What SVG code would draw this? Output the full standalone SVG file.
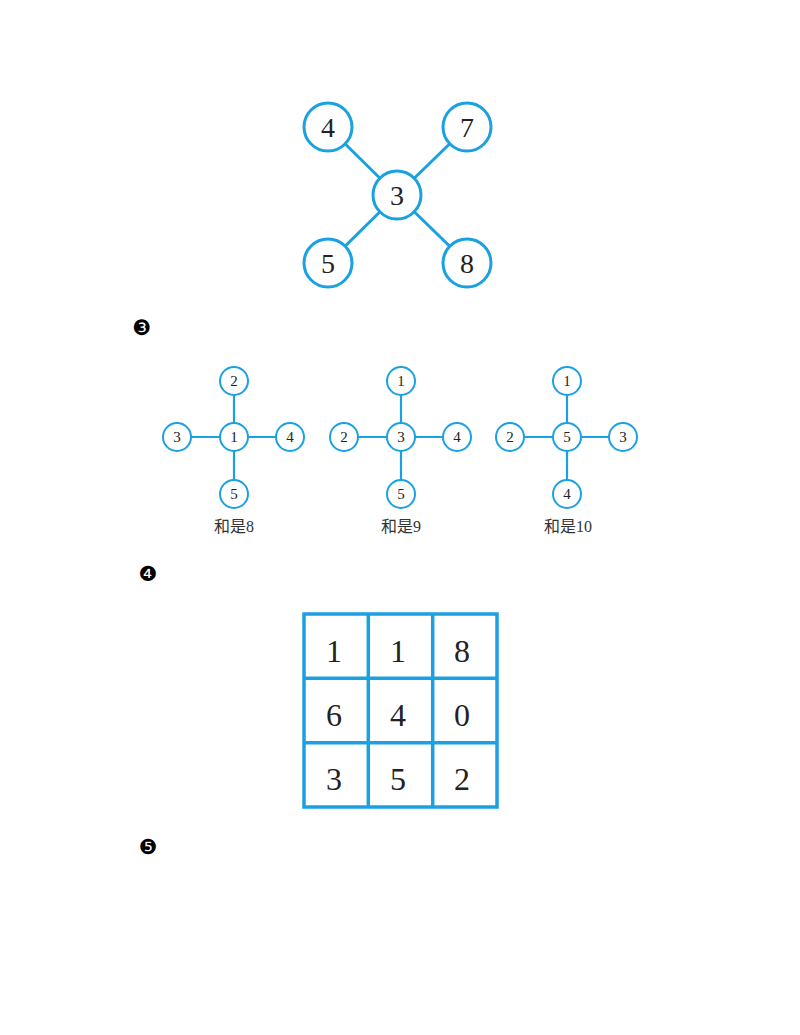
<svg xmlns="http://www.w3.org/2000/svg" width="800" height="1035" viewBox="0 0 800 1035">
<style>
.big{fill:#fff;stroke:#1ba1e2;stroke-width:3}
.sm{fill:#fff;stroke:#1ba1e2;stroke-width:2}
.ln{stroke:#1ba1e2;stroke-width:3}
.lns{stroke:#1ba1e2;stroke-width:2.2}
.t{font-family:"Liberation Serif",serif;fill:#222;text-anchor:middle;dominant-baseline:central}
.tb{font-size:28px}
.ts{font-size:15px}
.tg{font-size:32px}
.cap{font-family:"Liberation Serif","Noto Sans CJK SC",serif;font-size:16px;fill:#333;text-anchor:middle}
.bul{font-family:"DejaVu Sans",sans-serif;font-size:21px;fill:#000;text-anchor:middle;dominant-baseline:central}
.grid{fill:none;stroke:#1ba1e2;stroke-width:3.5}
</style>
<rect width="800" height="1035" fill="#fff"/>
<g id="connectors-top">
<line class="ln" x1="328" y1="127" x2="397" y2="195"/>
<line class="ln" x1="467" y1="127" x2="397" y2="195"/>
<line class="ln" x1="328" y1="263" x2="397" y2="195"/>
<line class="ln" x1="467" y1="263" x2="397" y2="195"/>
</g>
<g id="n4"><circle class="big" cx="328" cy="127" r="24"/><text class="t tb" x="328" y="127">4</text></g>
<g id="n7"><circle class="big" cx="467" cy="127" r="24"/><text class="t tb" x="467" y="127">7</text></g>
<g id="n3"><circle class="big" cx="397" cy="195" r="24"/><text class="t tb" x="397" y="195">3</text></g>
<g id="n5"><circle class="big" cx="328" cy="263" r="24"/><text class="t tb" x="328" y="263">5</text></g>
<g id="n8"><circle class="big" cx="467" cy="263" r="24"/><text class="t tb" x="467" y="263">8</text></g>

<text class="bul" x="142" y="328">❸</text>

<g id="connectors-mid">
<line class="lns" x1="234" y1="381" x2="234" y2="494"/>
<line class="lns" x1="177" y1="437" x2="290" y2="437"/>
<line class="lns" x1="401" y1="381" x2="401" y2="494"/>
<line class="lns" x1="344" y1="437" x2="457" y2="437"/>
<line class="lns" x1="567" y1="381" x2="567" y2="494"/>
<line class="lns" x1="510" y1="437" x2="623" y2="437"/>
</g>
<g id="a-c"><circle class="sm" cx="234" cy="437" r="14"/><text class="t ts" x="234" y="437">1</text></g>
<g id="a-t"><circle class="sm" cx="234" cy="381" r="14"/><text class="t ts" x="234" y="381">2</text></g>
<g id="a-l"><circle class="sm" cx="177" cy="437" r="14"/><text class="t ts" x="177" y="437">3</text></g>
<g id="a-r"><circle class="sm" cx="290" cy="437" r="14"/><text class="t ts" x="290" y="437">4</text></g>
<g id="a-b"><circle class="sm" cx="234" cy="494" r="14"/><text class="t ts" x="234" y="494">5</text></g>
<text class="cap" x="234" y="532">和是8</text>

<g id="b-c"><circle class="sm" cx="401" cy="437" r="14"/><text class="t ts" x="401" y="437">3</text></g>
<g id="b-t"><circle class="sm" cx="401" cy="381" r="14"/><text class="t ts" x="401" y="381">1</text></g>
<g id="b-l"><circle class="sm" cx="344" cy="437" r="14"/><text class="t ts" x="344" y="437">2</text></g>
<g id="b-r"><circle class="sm" cx="457" cy="437" r="14"/><text class="t ts" x="457" y="437">4</text></g>
<g id="b-b"><circle class="sm" cx="401" cy="494" r="14"/><text class="t ts" x="401" y="494">5</text></g>
<text class="cap" x="401" y="532">和是9</text>

<g id="c-c"><circle class="sm" cx="567" cy="437" r="14"/><text class="t ts" x="567" y="437">5</text></g>
<g id="c-t"><circle class="sm" cx="567" cy="381" r="14"/><text class="t ts" x="567" y="381">1</text></g>
<g id="c-l"><circle class="sm" cx="510" cy="437" r="14"/><text class="t ts" x="510" y="437">2</text></g>
<g id="c-r"><circle class="sm" cx="623" cy="437" r="14"/><text class="t ts" x="623" y="437">3</text></g>
<g id="c-b"><circle class="sm" cx="567" cy="494" r="14"/><text class="t ts" x="567" y="494">4</text></g>
<text class="cap" x="568" y="532">和是10</text>

<text class="bul" x="148" y="574">❹</text>

<g id="grid">
<rect class="grid" x="304" y="614" width="193" height="193"/>
<line class="grid" x1="368.3" y1="614" x2="368.3" y2="807"/>
<line class="grid" x1="432.7" y1="614" x2="432.7" y2="807"/>
<line class="grid" x1="304" y1="678.3" x2="497" y2="678.3"/>
<line class="grid" x1="304" y1="742.7" x2="497" y2="742.7"/>
<text class="t tg" x="334" y="651">1</text>
<text class="t tg" x="398" y="651">1</text>
<text class="t tg" x="462" y="651">8</text>
<text class="t tg" x="334" y="715">6</text>
<text class="t tg" x="398" y="715">4</text>
<text class="t tg" x="462" y="715">0</text>
<text class="t tg" x="334" y="779">3</text>
<text class="t tg" x="398" y="779">5</text>
<text class="t tg" x="462" y="779">2</text>
</g>

<text class="bul" x="148" y="847">❺</text>
</svg>
